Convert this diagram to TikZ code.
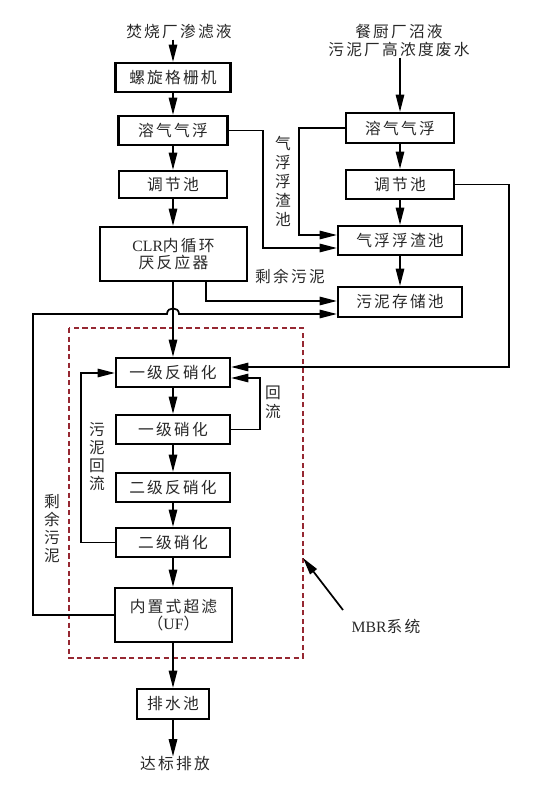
\documentclass[tikz,border=0pt]{standalone}
\usepackage{fontspec}
\setmainfont{Liberation Serif}
\newfontfamily\cjk{Noto Sans CJK SC}[LetterSpace=14]
\usetikzlibrary{arrows.meta,calc}
\definecolor{mbrred}{RGB}{150,40,50}
\definecolor{txt}{RGB}{40,40,40}
\begin{document}
\begin{tikzpicture}[x=0.75pt,y=-0.75pt,
  >={Triangle[length=13pt,width=6.3pt]},
  line/.style={line width=1.3pt},
  lbl/.style={inner sep=0pt,text=txt,align=center,font=\cjk\fontsize{11.8}{14}\selectfont},
  box/.style={draw,line width=1.6pt,inner sep=0pt,text=txt,align=center,font=\cjk\fontsize{11.8}{13}\selectfont},
  bw/.style={minimum width=#1*0.75pt},
  bh/.style={minimum height=#1*0.75pt},
  vlab/.style={lbl,font=\cjk\fontsize{11.8}{#1}\selectfont}
]
\useasboundingbox (0,0) rectangle (535,788);

% sources
\node[lbl] (src1) at (179,32) {焚烧厂渗滤液};
\node[lbl,font=\cjk\fontsize{11.8}{13.5}\selectfont] (src2) at (399,41) {餐厨厂沼液\\污泥厂高浓度废水};

% left column
\node[box,bw=115,bh=29] (n1) at (173,77.5) {螺旋格栅机};
\node[box,bw=109,bh=29] (dqL) at (173,130.5) {溶气气浮};
\node[box,bw=108,bh=27] (tjL) at (173,184.5) {调节池};
\node[box,bw=147,bh=54] (clr) at (173.5,254) {{\rmfamily CLR}内循环\\厌反应器};

% right column
\node[box,bw=108,bh=30] (dqR) at (400,128) {溶气气浮};
\node[box,bw=108,bh=29] (tjR) at (400,184.5) {调节池};
\node[box,bw=124,bh=29] (fz) at (400,240.5) {气浮浮渣池};
\node[box,bw=124,bh=30] (wn) at (400,302) {污泥存储池};

% MBR column
\node[box,bw=114,bh=29] (a1) at (173,372.5) {一级反硝化};
\node[box,bw=114,bh=29] (a2) at (173,429.5) {一级硝化};
\node[box,bw=114,bh=29] (a3) at (173,487.5) {二级反硝化};
\node[box,bw=114,bh=29] (a4) at (173,542.5) {二级硝化};
\node[box,bw=117,bh=54] (uf) at (173.5,615) {内置式超滤\\（{\rmfamily UF}）};
\node[box,bw=72,bh=30] (ps) at (173,704) {排水池};
\node[lbl] (out) at (175,764) {达标排放};

% labels
\node[vlab=14.25] (l1) at (283,181) {气\\浮\\浮\\渣\\池};
\node[lbl] (l2) at (290,276) {剩余污泥};
\node[vlab=14.25] (l3) at (273,402.5) {回\\流};
\node[vlab=13.3] (l4) at (97,456.5) {污\\泥\\回\\流};
\node[vlab=13.3] (l5) at (52,528.5) {剩\\余\\污\\泥};
\node[lbl] (mbr) at (386,626) {{\rmfamily MBR}系统};

% dashed MBR frame
\draw[mbrred,line width=1.3pt,dash pattern=on 4pt off 2.5pt] (69,328) rectangle (303,658);

% main vertical flows
\draw[line,->] (src1.south -| n1.north) -- (n1.north);
\draw[line,->] (n1) -- (dqL);
\draw[line,->] (dqL) -- (tjL);
\draw[line,->] (tjL) -- (clr.north -| tjL.south);
\draw[line,->] (clr.south -| a1.north) -- (a1.north);
\draw[line,->] (a1) -- (a2);
\draw[line,->] (a2) -- (a3);
\draw[line,->] (a3) -- (a4);
\draw[line,->] (a4.south) -- (uf.north -| a4.south);
\draw[line,->] (uf.south -| ps.north) -- (ps.north);
\draw[line,->] (ps.south) -- (ps.south |- out.north);

\draw[line,->] (src2.south -| dqR.north) -- (dqR.north);
\draw[line,->] (dqR) -- (tjR);
\draw[line,->] (tjR) -- (fz);
\draw[line,->] (fz) -- (wn);

% scum lines
\coordinate (c1) at (263,248);
\coordinate (c2) at (299,235);
\draw[line,->] (dqL.east) -| (c1) -- (c1 -| fz.west);
\draw[line,->] (dqR.west) -| (c2) -- (c2 -| fz.west);

% excess sludge from CLR
\coordinate (c3) at (206,301);
\draw[line,->] (c3 |- clr.south) -- (c3) -- (c3 -| wn.west);

% excess sludge from UF, with hop
\coordinate (c4) at (33,314);
\coordinate (h1) at ($(c4 -| a1.north)+(-6,0)$);
\coordinate (h2) at ($(c4 -| a1.north)+(6,0)$);
\draw[line,->] (uf.west) -| (c4) -- (h1) .. controls ($(h1)+(0,-7.5)$) and ($(h2)+(0,-7.5)$) .. (h2) -- (c4 -| wn.west);

% right adjust tank to first denitrification
\coordinate (c5) at (509,367);
\draw[line,->] (tjR.east) -| (c5) -- (c5 -| a1.east);

% internal return
\coordinate (c6) at (260,378);
\draw[line,->] (a2.east) -| (c6) -- (c6 -| a1.east);

% sludge return
\coordinate (c7) at (81,373);
\draw[line,->] (a4.west) -| (c7) -- (c7 -| a1.west);

% MBR pointer
\coordinate (m1) at (343,610);
\coordinate (m2) at (303,558);
\draw[line,->] (m1) -- (m2);
\end{tikzpicture}
\end{document}
